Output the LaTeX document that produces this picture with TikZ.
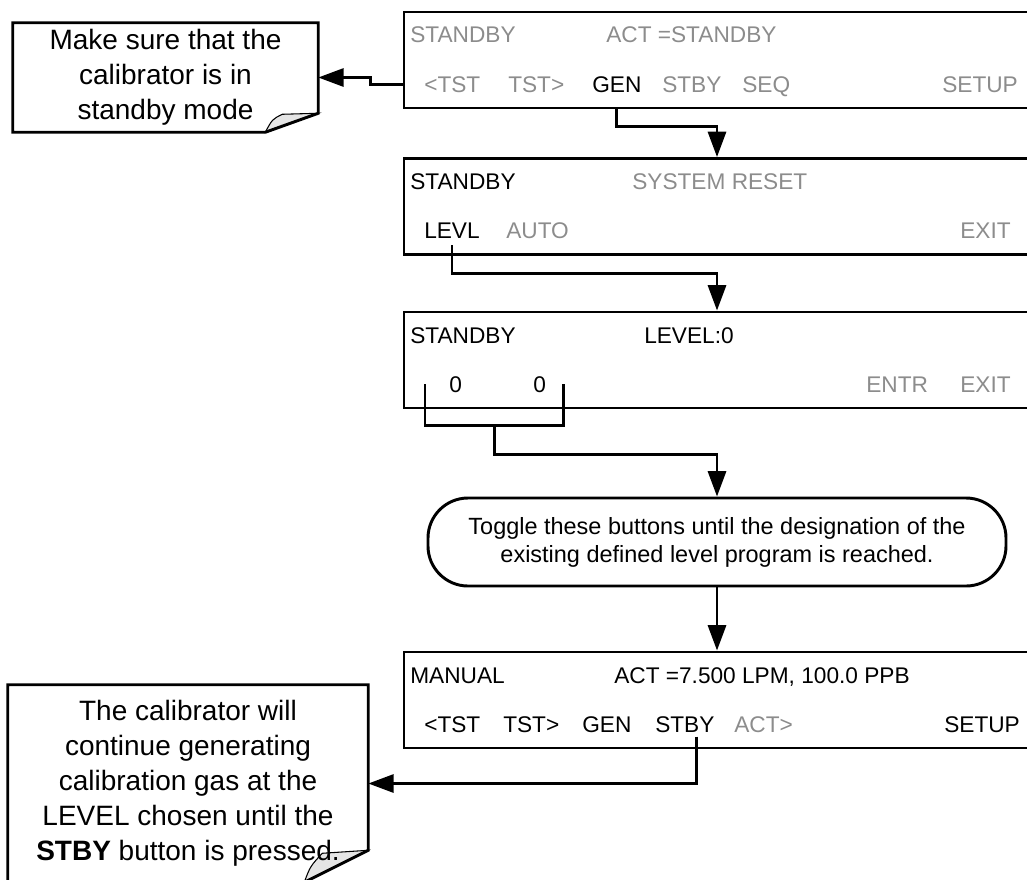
\documentclass[tikz,border=0pt]{standalone}
\usepackage{fontspec}
\setmainfont{Liberation Sans}
\usepackage{tikz}
\usetikzlibrary{arrows.meta, calc, backgrounds}
\definecolor{keygray}{RGB}{140,140,140}

\begin{document}
\begin{tikzpicture}[
    x=0.75pt, y=-0.75pt,
    panel/.style={draw, line width=2.2pt, rectangle, minimum width=469.5pt, minimum height=72pt, inner sep=0pt},
    key/.style={anchor=base west, inner sep=0pt, font=\fontsize{17}{20}\selectfont},
    keyoff/.style={key, text=keygray},
    note/.style={inner sep=0pt, align=center, font=\fontsize{21}{26.25}\selectfont},
    hint/.style={draw, line width=2.2pt, rounded corners=30pt, minimum width=433.5pt, minimum height=66pt, align=center, font=\fontsize{17.6}{21}\selectfont},
    arrow/.style={-{Triangle[length=19pt, width=13.5pt]}, line width=2.2pt},
    wire/.style={line width=2.2pt},
    fold/.style={fill=gray!20, line width=0.8pt}
]
\useasboundingbox (0,0) rectangle (1027,879);

\node[panel] (pnlA) at (717,60) {};
\node[panel] (pnlB) at (717,206.5) {};
\node[panel] (pnlC) at (717,360) {};
\node[panel] (pnlD) at (717,700) {};

\node[keyoff] (a1stdby) at (410,42.5) {STANDBY};
\node[keyoff] (a1act) at (606,42.5) {ACT =STANDBY};
\node[keyoff] (a1tstl) at (424,92) {<TST};
\node[keyoff] (a1tstr) at (508,92) {TST>};
\node[key] (a1gen) at (592,92) {GEN};
\node[keyoff] (a1stby) at (662,92) {STBY};
\node[keyoff] (a1seq) at (742,92) {SEQ};
\node[keyoff] (a1setup) at (942,92) {SETUP};

\node[key] (a2stdby) at (410,189) {STANDBY};
\node[keyoff] (a2reset) at (632,189) {SYSTEM RESET};
\node[key] (a2levl) at (424,238) {LEVL};
\node[keyoff] (a2auto) at (506,238) {AUTO};
\node[keyoff] (a2exit) at (960,238) {EXIT};

\node[key] (a3stdby) at (410,343) {STANDBY};
\node[key] (a3level) at (644,343) {LEVEL:0};
\node[key] (a3zl) at (449,392) {0};
\node[key] (a3zr) at (533,392) {0};
\node[keyoff] (a3entr) at (866,392) {ENTR};
\node[keyoff] (a3exit) at (960,392) {EXIT};

\node[key] (a5man) at (410,683) {MANUAL};
\node[key] (a5act) at (614,683) {ACT =7.500 LPM, 100.0 PPB};
\node[key] (a5tstl) at (424,732) {<TST};
\node[key] (a5tstr) at (503,732) {TST>};
\node[key] (a5gen) at (582,732) {GEN};
\node[key] (a5stby) at (655,732) {STBY};
\node[keyoff] (a5actr) at (734,732) {ACT>};
\node[key] (a5setup) at (944,732) {SETUP};

\node[hint] (toggle) at (717,542) {Toggle these buttons until the designation of the\\existing defined level program is reached.};

\node[note, minimum width=228.75pt, minimum height=81.75pt] (noteA) at (165.5,77.5) {Make sure that the\\calibrator is in\\standby mode};
\node[note, minimum width=270pt, minimum height=147.75pt] (noteB) at (188,783.5) {The calibrator will\\continue generating\\calibration gas at the\\LEVEL chosen until the\\\textbf{STBY} button is pressed.};

\begin{scope}[on background layer]
    \filldraw[fold] ($(noteA.south east)+(0,-19)$) -- ($(noteA.south east)+(-53,0)$) .. controls ($(noteA.south east)+(-46,-13)$) .. ($(noteA.south east)+(-36,-18)$) -- cycle;
    \draw[wire] (noteA.north west) -- (noteA.north east) -- ($(noteA.south east)+(0,-19)$) -- ($(noteA.south east)+(-53,0)$) -- (noteA.south west) -- cycle;
    \filldraw[fold] ($(noteB.south east)+(0,-32)$) -- ($(noteB.south east)+(-64,0)$) .. controls ($(noteB.south east)+(-58,-16)$) .. ($(noteB.south east)+(-46,-29)$) -- cycle;
    \draw[wire] (noteB.north west) -- (noteB.north east) -- ($(noteB.south east)+(0,-32)$) -- ($(noteB.south east)+(-64,0)$) -- (noteB.south west) -- cycle;
\end{scope}

\coordinate (brl) at ($(a3zl.west)+(-24,0)$);
\coordinate (brr) at ($(a3zr.east)+(17,0)$);

\draw[arrow] (a1tstl.west -| pnlA.west) -- ++(-32,0) |- (noteA.east);
\draw[arrow] (a1gen.south |- pnlA.south) -- ++(0,17) -| (pnlB.north);
\draw[arrow] ($(a2levl.south)+(0,7)$) -- ++(0,28) -| (pnlC.north);
\draw[wire] (brl) -- ++(0,41) -| (brr);
\draw[arrow] ($(brl)!0.5!(brr)+(0,41)$) -- ++(0,29) -| (toggle.north);
\draw[arrow] (toggle) -- (pnlD);
\draw[arrow] ($(a5stby.south)+(12,4)$) |- (noteB.east);
\end{tikzpicture}
\end{document}
